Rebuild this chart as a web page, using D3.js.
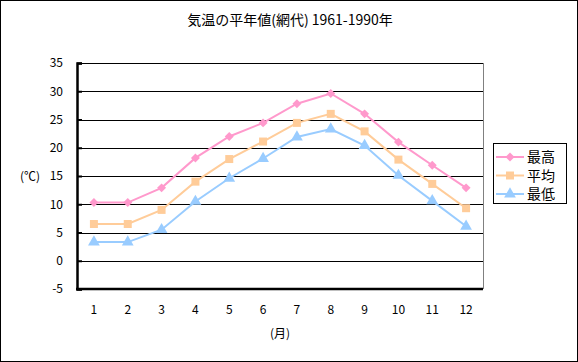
<!DOCTYPE html>
<html>
<head>
<meta charset="utf-8">
<script src="https://cdn.jsdelivr.net/npm/d3@7"></script>
<style>
  body { margin: 0; background: #fff; }
  svg text { font-family: "Noto Sans CJK JP", "Noto Sans", sans-serif; fill: #000; }
</style>
</head>
<body>
<div id="chart"></div>
<script>
// ===== data =====
let months = [1, 2, 3, 4, 5, 6, 7, 8, 9, 10, 11, 12];
let seriesNames = ["最高", "平均", "最低"];
let maxTemp = [10.3, 10.3, 12.9, 18.2, 22.0, 24.4, 27.8, 29.6, 26.0, 21.0, 16.9, 12.9];
let avgTemp = [6.5, 6.5, 9.0, 14.0, 18.0, 21.1, 24.4, 26.0, 22.9, 17.9, 13.6, 9.3];
let minTemp = [3.3, 3.3, 5.5, 10.5, 14.6, 18.1, 21.9, 23.3, 20.4, 15.1, 10.6, 6.1];
let yTicks = [-5, 0, 5, 10, 15, 20, 25, 30, 35];

let colors = ["#ff99cc", "#ffcc99", "#99ccff"];
let symbols = [d3.symbolSquare, d3.symbolSquare, d3.symbolTriangle];
let symSize = [40, 64, 60];
let symRot = [45, 0, 0];
let series = [maxTemp, avgTemp, minTemp];

let W = 578, H = 362;
let plot = {left: 77, right: 483, top: 63, bottom: 289};

let svg = d3.select("#chart").append("svg")
    .attr("width", W)
    .attr("height", H);

// outer frame
svg.append("rect")
    .attr("x", 0.5).attr("y", 0.5)
    .attr("width", W - 1).attr("height", H - 1)
    .attr("fill", "#fff").attr("stroke", "#000");

let x = d3.scaleBand().domain(months).range([plot.left, plot.right]),
    y = d3.scaleLinear().domain([-5, 35]).range([plot.bottom, plot.top]);

let cx = d => x(d) + x.bandwidth() / 2;

// gridlines
svg.append("g").selectAll("line")
    .data(yTicks.filter(t => t > -5))
  .enter().append("line")
    .attr("x1", plot.left).attr("x2", plot.right)
    .attr("y1", d => Math.round(y(d)) + 0.5)
    .attr("y2", d => Math.round(y(d)) + 0.5)
    .attr("stroke", "#000");

// right border of plot
svg.append("line")
    .attr("x1", plot.right + 0.5).attr("x2", plot.right + 0.5)
    .attr("y1", plot.top).attr("y2", plot.bottom)
    .attr("stroke", "#808080");

// y axis
let yAxis = d3.axisLeft(y).tickValues(yTicks).tickSize(-5).tickPadding(14);
let gy = svg.append("g")
    .attr("transform", "translate(" + plot.left + ",0)")
    .call(yAxis);
gy.select(".domain").attr("stroke-width", 2.5);
gy.selectAll(".tick line").attr("stroke-width", 2);
gy.selectAll("text")
    .attr("font-size", 12)
    .text(d => d < 0 ? "-" + Math.abs(d) : d);

// x axis line at bottom
svg.append("line")
    .attr("x1", plot.left - 1).attr("x2", plot.right)
    .attr("y1", plot.bottom).attr("y2", plot.bottom)
    .attr("stroke", "#000").attr("stroke-width", 2.5);

let xAxis = d3.axisBottom(x).tickSize(0).tickPadding(16);
let gx = svg.append("g")
    .attr("transform", "translate(0," + plot.bottom + ")")
    .call(xAxis);
gx.select(".domain").remove();
gx.selectAll("text").attr("font-size", 12);

// series
let line = d3.line().x((d, i) => cx(months[i])).y(d => y(d));

series.forEach((vals, k) => {
  let g = svg.append("g");
  g.append("path")
      .datum(vals)
      .attr("d", line)
      .attr("fill", "none")
      .attr("stroke", colors[k])
      .attr("stroke-width", 2);
  g.selectAll("path.m")
      .data(vals)
    .enter().append("path")
      .attr("class", "m")
      .attr("transform", (d, i) => "translate(" + cx(months[i]) + "," + y(d) + ") rotate(" + symRot[k] + ")")
      .attr("d", d3.symbol().type(symbols[k]).size(symSize[k]))
      .attr("fill", colors[k]);
});

// title and axis titles
svg.append("text")
    .attr("x", 290).attr("y", 25)
    .attr("text-anchor", "middle")
    .attr("font-size", 14)
    .text("気温の平年値(網代) 1961-1990年");

svg.append("text")
    .attr("x", 30).attr("y", 181)
    .attr("text-anchor", "middle")
    .attr("font-size", 12)
    .text("(℃)");

svg.append("text")
    .attr("x", 280).attr("y", 338)
    .attr("text-anchor", "middle")
    .attr("font-size", 12)
    .text("(月)");

// legend
let legend = svg.append("g");
legend.append("rect")
    .attr("x", 493.5).attr("y", 143.5)
    .attr("width", 73).attr("height", 60)
    .attr("fill", "#fff").attr("stroke", "#000");

seriesNames.forEach((name, k) => {
  let ly = 157 + k * 18.5;
  legend.append("line")
      .attr("x1", 496).attr("x2", 524)
      .attr("y1", ly).attr("y2", ly)
      .attr("stroke", colors[k]).attr("stroke-width", 2);
  legend.append("path")
      .attr("transform", "translate(510," + ly + ") rotate(" + symRot[k] + ")")
      .attr("d", d3.symbol().type(symbols[k]).size(symSize[k]))
      .attr("fill", colors[k]);
  legend.append("text")
      .attr("x", 527).attr("y", ly + 5)
      .attr("font-size", 14)
      .text(name);
});
</script>
</body>
</html>
